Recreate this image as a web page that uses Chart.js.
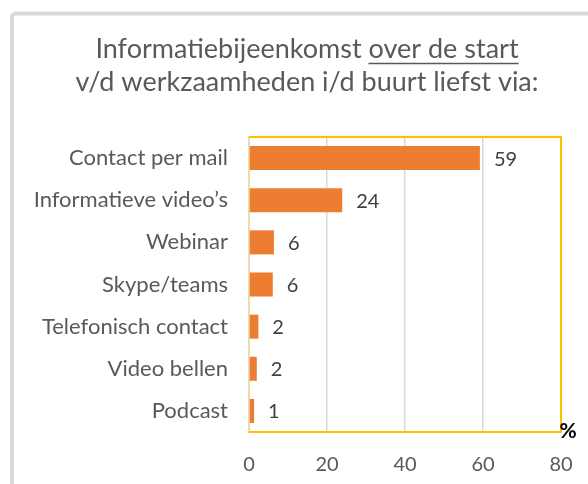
<!DOCTYPE html>
<html>
<head>
<meta charset="utf-8">
<script src="https://cdn.jsdelivr.net/npm/chart.js@4.4.1/dist/chart.umd.min.js"></script>
<style>
  html, body { margin: 0; padding: 0; background: #fff; }
  canvas { display: block; }
</style>
</head>
<body>
<canvas id="chart" width="588" height="484"></canvas>
<script>
const categories = ['Contact per mail', 'Informatieve video\u2019s', 'Webinar', 'Skype/teams', 'Telefonisch contact', 'Video bellen', 'Podcast'];
const percentages = [59.2, 23.9, 6.4, 6.1, 2.4, 2.0, 1.3];
const shownValues = ['59', '24', '6', '6', '2', '2', '1'];
const xTicks = [0, 20, 40, 60, 80];
const titlePlain = 'Informatiebijeenkomst ';
const titleUnderlined = 'over de start';
const titleLine2 = 'v/d werkzaamheden i/d buurt liefst via:';
const unitLabel = '%';

const FONT = 'Lato, "Open Sans", sans-serif';

// outer grey frame + title
const frameAndTitle = {
    id: 'frameAndTitle',
    beforeDraw(chart) {
        const ctx = chart.ctx;
        ctx.save();
        ctx.fillStyle = '#fff';
        ctx.fillRect(0, 0, chart.width, chart.height);
        ctx.strokeStyle = '#d9d9d9';
        ctx.lineWidth = 4;
        ctx.beginPath();
        ctx.roundRect(12, 13.5, 600, 500, 4);
        ctx.stroke();

        ctx.fillStyle = '#595959';
        ctx.font = '27px ' + FONT;
        ctx.textBaseline = 'alphabetic';
        const w1 = ctx.measureText(titlePlain).width;
        const w2 = ctx.measureText(titleUnderlined).width;
        const x1 = 307 - (w1 + w2) / 2;
        ctx.textAlign = 'left';
        ctx.fillText(titlePlain, x1, 58);
        ctx.fillText(titleUnderlined, x1 + w1, 58);
        ctx.strokeStyle = '#595959';
        ctx.lineWidth = 1.5;
        ctx.beginPath();
        ctx.moveTo(x1 + w1, 63.5);
        ctx.lineTo(x1 + w1 + w2, 63.5);
        ctx.stroke();
        ctx.textAlign = 'center';
        ctx.fillText(titleLine2, 307, 91);
        ctx.restore();
    }
};

// gold plot frame, value labels, % sign
const plotExtras = {
    id: 'plotExtras',
    afterDatasetsDraw(chart) {
        const ctx = chart.ctx;
        const a = chart.chartArea;
        ctx.save();
        ctx.strokeStyle = '#FFC000';
        ctx.lineWidth = 2;
        ctx.beginPath();
        ctx.moveTo(a.left, a.top);
        ctx.lineTo(a.right, a.top);
        ctx.lineTo(a.right, a.bottom);
        ctx.lineTo(a.left, a.bottom);
        ctx.stroke();

        ctx.fillStyle = '#404040';
        ctx.font = '20px ' + FONT;
        ctx.textAlign = 'left';
        ctx.textBaseline = 'middle';
        chart.getDatasetMeta(0).data.forEach((bar, i) => {
            ctx.fillText(shownValues[i], bar.x + 14, bar.y + 1);
        });

        ctx.fillStyle = '#000';
        ctx.font = 'bold 21px ' + FONT;
        ctx.textAlign = 'center';
        ctx.fillText(unitLabel, a.right + 7, a.bottom - 1);
        ctx.restore();
    }
};

new Chart(document.getElementById('chart'), {
    type: 'bar',
    data: {
        labels: categories,
        datasets: [{
            data: percentages,
            backgroundColor: '#ED7D31',
            borderWidth: 0,
            barPercentage: 0.57,
            categoryPercentage: 1
        }]
    },
    options: {
        indexAxis: 'y',
        responsive: false,
        animation: false,
        layout: { padding: { top: 137, right: 27, left: 0, bottom: 0 } },
        plugins: {
            legend: { display: false },
            title: { display: false },
            tooltip: { enabled: false }
        },
        scales: {
            x: {
                min: 0,
                max: 80,
                afterBuildTicks(scale) {
                    scale.ticks = xTicks.map(v => ({ value: v }));
                },
                afterFit(scale) {
                    scale.height = 52;
                    scale.paddingLeft = 0;
                    scale.paddingRight = 0;
                },
                grid: {
                    drawTicks: false,
                    lineWidth: 1.5,
                    color: c => (c.tick && (c.tick.value === 0 || c.tick.value === 80)) ? 'rgba(0,0,0,0)' : '#d9d9d9'
                },
                border: { display: false },
                ticks: {
                    padding: 21,
                    color: '#595959',
                    font: { family: FONT, size: 20 }
                }
            },
            y: {
                afterFit(scale) {
                    scale.width = 249;
                    scale.paddingTop = 0;
                    scale.paddingBottom = 0;
                },
                grid: { display: false, drawTicks: false },
                border: { color: '#EBDCAE', width: 2 },
                ticks: {
                    padding: 21,
                    color: '#595959',
                    font: { family: FONT, size: 22 }
                }
            }
        }
    },
    plugins: [frameAndTitle, plotExtras]
});
</script>
</body>
</html>
